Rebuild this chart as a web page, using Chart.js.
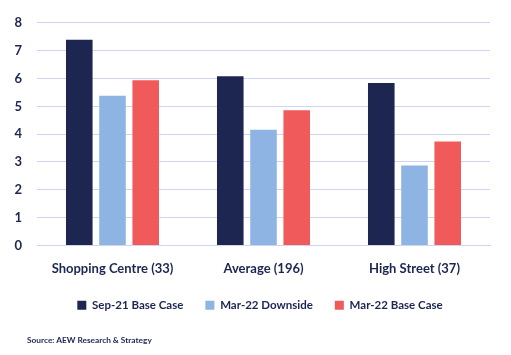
<!DOCTYPE html>
<html><head><meta charset="utf-8">
<script src="https://cdn.jsdelivr.net/npm/chart.js@4/dist/chart.umd.min.js"></script>
<style>html,body{margin:0;padding:0;background:#fff;}#wrap{width:511px;height:355px;position:relative;}
#src{position:absolute;left:27px;top:335px;font:bold 8.3px Lato, sans-serif;color:#1c2651;white-space:nowrap;line-height:11px;}</style>
</head><body><div id="wrap"><canvas id="c" width="511" height="355"></canvas><div id="src"></div></div>
<script>
const categories = ["Shopping Centre (33)", "Average (196)", "High Street (37)"];
const sep21Base = [7.39, 6.08, 5.84];
const mar22Downside = [5.38, 4.16, 2.87];
const mar22Base = [5.94, 4.86, 3.74];
const seriesNames = ["Sep-21 Base Case", "Mar-22 Downside", "Mar-22 Base Case"];
const yTicks = [0,1,2,3,4,5,6,7,8];
const sourceText = "Source: AEW Research & Strategy";

document.getElementById('src').textContent = sourceText;

const FONT = "Lato, sans-serif";
const TXT = "#1c2651";
Chart.defaults.font.family = FONT;
Chart.defaults.color = TXT;

new Chart(document.getElementById('c'), {
  type: 'bar',
  data: {
    labels: categories,
    datasets: [
      {label: seriesNames[0], data: sep21Base, backgroundColor: '#1c2651'},
      {label: seriesNames[1], data: mar22Downside, backgroundColor: '#8db4e2'},
      {label: seriesNames[2], data: mar22Base, backgroundColor: '#f05a5a'}
    ]
  },
  options: {
    responsive: false,
    animation: false,
    devicePixelRatio: 1,
    layout: {padding: {left: 9, right: 0, top: 5, bottom: 34}},
    datasets: {bar: {categoryPercentage: 0.66, barPercentage: 0.8}},
    scales: {
      x: {
        afterFit: s => { s.height = 32; },
        grid: {display: false, drawTicks: false},
        border: {display: true, color: '#cfd5ee', width: 1},
        ticks: {padding: 16, maxRotation: 0, autoSkip: false, color: TXT, font: {size: 13, weight: 'bold', family: FONT}}
      },
      y: {
        min: 0, max: 8,
        afterBuildTicks: s => { s.ticks = yTicks.map(v => ({value: v})); },
        afterFit: s => { s.width = 28; },
        grid: {color: '#cfd5ee', lineWidth: 1, drawTicks: false},
        border: {display: false},
        ticks: {padding: 15, autoSkip: false, stepSize: 1, color: TXT, font: {size: 13, weight: 'bold', family: FONT}}
      },
      yR: {
        position: 'right', min: 0, max: 8,
        afterFit: s => { s.width = 21; },
        grid: {display: false, drawTicks: false},
        border: {display: false},
        ticks: {display: false}
      }
    },
    plugins: {
      legend: {
        position: 'bottom',
        labels: {boxWidth: 9, boxHeight: 9, padding: 22, color: TXT, font: {size: 11.5, weight: 'bold', family: FONT}}
      },
      tooltip: {enabled: false}
    }
  }
});
</script></body></html>
